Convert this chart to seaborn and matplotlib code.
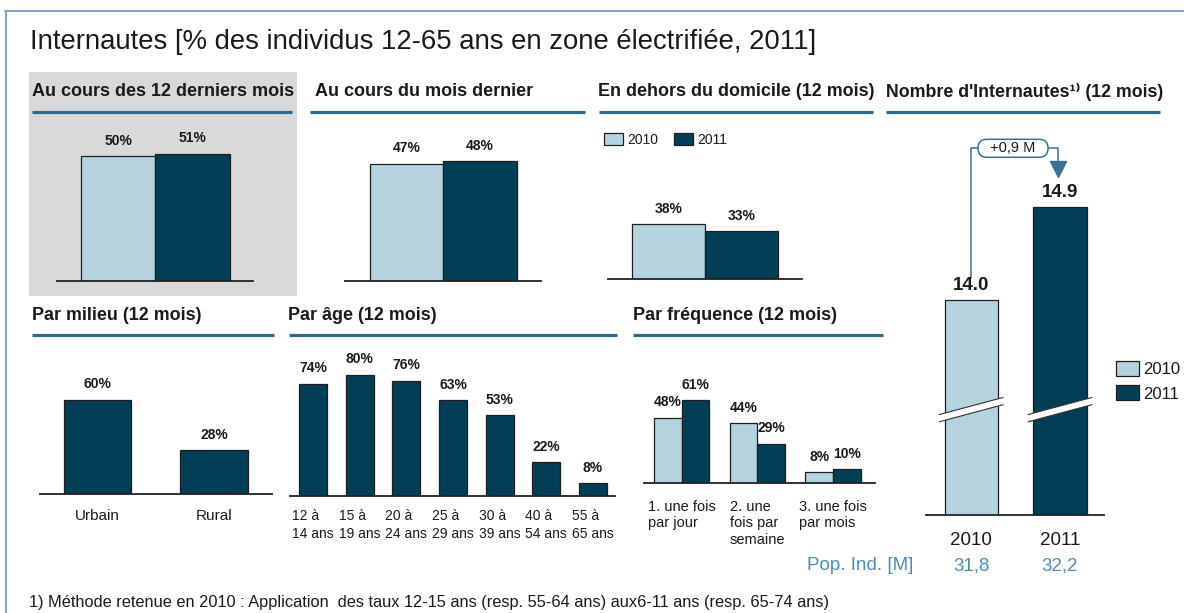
import matplotlib
matplotlib.use("Agg")
import matplotlib.pyplot as plt
import matplotlib.transforms as mtransforms
import seaborn as sns
import pandas as pd
from matplotlib import font_manager
from matplotlib.patches import Rectangle, Polygon, Patch, FancyBboxPatch
from matplotlib.lines import Line2D

# ---------------- data ----------------
years = ["2010", "2011"]
last12_pct = [50, 51]
lastmonth_pct = [47, 48]
outside_pct = [38, 33]
users_millions = [14.0, 14.9]
pop_millions = [31.8, 32.2]
growth_label = "+0,9 M"
milieu_labels = ["Urbain", "Rural"]
milieu_pct = [60, 28]
age_labels = ["12 à\n14 ans", "15 à\n19 ans", "20 à\n24 ans", "25 à\n29 ans",
              "30 à\n39 ans", "40 à\n54 ans", "55 à\n65 ans"]
age_pct = [74, 80, 76, 63, 53, 22, 8]
freq_labels = ["1. une fois\npar jour", "2. une\nfois par\nsemaine", "3. une fois\npar mois"]
freq_2010 = [48, 44, 8]
freq_2011 = [61, 29, 10]

main_title = "Internautes [% des individus 12-65 ans en zone électrifiée, 2011]"
footnote = ("1) Méthode retenue en 2010 : Application  des taux 12-15 ans "
            "(resp. 55-64 ans) aux6-11 ans (resp. 65-74 ans)")
panel_titles = ["Au cours des 12 derniers mois", "Au cours du mois dernier",
                "En dehors du domicile (12 mois)", "Nombre d'Internautes¹⁾ (12 mois)",
                "Par milieu (12 mois)", "Par âge (12 mois)", "Par fréquence (12 mois)"]
pop_label = "Pop. Ind. [M]"

# ---------------- style ----------------
sns.set_theme(style="white")
names = {f.name for f in font_manager.fontManager.ttflist}
NARROW = "Liberation Sans Narrow" if "Liberation Sans Narrow" in names else "Liberation Sans"
plt.rcParams["font.family"] = ["Liberation Sans", "DejaVu Sans"]

LIGHT = "#b4d3de"
DARK = "#023e56"
EDGE = "#1e1e1e"
RULE = "#2d6d8b"
TXT = "#1a1a1a"
BLUE = "#4b8bbe"
GREY = "#d9d9d9"
FRAME = "#7fa3d5"
PAL = {"2010": LIGHT, "2011": DARK}

W, H = 1184, 613
fig = plt.figure(figsize=(W / 100, H / 100), dpi=100)
fig.patch.set_facecolor("white")
renderer = fig.canvas.get_renderer()


def fx(x):
    return x / W


def fy(y):
    return 1 - y / H


def add_ax(x0, x1, ytop, ybot):
    ax = fig.add_axes([fx(x0), fy(ybot), (x1 - x0) / W, (ybot - ytop) / H])
    ax.patch.set_alpha(0)
    return ax


def finish(ax, c0, sp, x0, x1, ytop, ybot, pxper, ymin=0.0):
    ax.set_xlim((x0 - c0) / sp, (x1 - c0) / sp)
    ax.set_ylim(ymin, ymin + (ybot - ytop) / pxper)
    for s in ("left", "top", "right"):
        ax.spines[s].set_visible(False)
    ax.spines["bottom"].set_color("#222222")
    ax.spines["bottom"].set_linewidth(1.3)
    ax.set_yticks([])
    ax.set_xlabel("")
    ax.set_ylabel("")
    ax.tick_params(axis="x", length=0, colors=TXT)


def label(ax, fmt="{:.0f}%", size=10, pad=6):
    for c in ax.containers:
        ax.bar_label(c, fmt=fmt, padding=pad, fontsize=size, fontweight="bold", color=TXT)


def fit_text(x, y, s, width, size=12, **kw):
    t = fig.text(fx(x), fy(y), s, fontsize=size, ha="left", va="center", color=TXT, **kw)
    w = t.get_window_extent(renderer=renderer).width
    t.set_fontsize(size * width / w)
    return t


BAR_KW = dict(edgecolor=EDGE, linewidth=0.9, errorbar=None, saturation=1)

# ---------------- frame, background, titles ----------------
fig.add_artist(Line2D([fx(5), fx(1184)], [fy(11), fy(11)], transform=fig.transFigure,
                      color=FRAME, lw=1.5))
fig.add_artist(Line2D([fx(5.5), fx(5.5)], [fy(11), fy(613)], transform=fig.transFigure,
                      color=FRAME, lw=1.5))
fig.add_artist(Rectangle((fx(28.7), fy(296)), (297 - 28.7) / W, (296 - 72.3) / H,
                         transform=fig.transFigure, facecolor=GREY, edgecolor="none", zorder=-1))

fit_text(30, 41.7, main_title, 789, family=[NARROW, "DejaVu Sans"])

title_pos = [(32, 92, 260), (315, 92, 216.5), (598.5, 92, 273.5), (886, 92, 275.7),
             (31.6, 316, 168), (288.5, 316, 147.5), (632.8, 316, 203.7)]
for s, (x, y, w) in zip(panel_titles, title_pos):
    fit_text(x, y, s, w, fontweight="bold", family=[NARROW, "DejaVu Sans"])

rules = [(31.8, 292, 111.7), (310, 585, 111.7), (598.5, 872.8, 111.7), (886, 1160, 111.7),
         (31.6, 273.5, 335), (288.5, 616.6, 335), (633, 883, 335)]
for x0, x1, y in rules:
    fig.add_artist(Line2D([fx(x0), fx(x1)], [fy(y), fy(y)], transform=fig.transFigure,
                          color=RULE, lw=2.3, solid_capstyle="butt"))

fit_text(28.7, 602, footnote, 798)

# ---------------- panel 1: 12 derniers mois ----------------
df1 = pd.DataFrame({"year": years, "pct": last12_pct})
ax1 = add_ax(57, 253, 120, 281)
sns.barplot(data=df1, x="year", y="pct", hue="year", palette=PAL, width=1.0,
            legend=False, ax=ax1, **BAR_KW)
finish(ax1, 118.3, 74.2, 57, 253, 120, 281, 2.5)
ax1.set_xticks([])
label(ax1)

# ---------------- panel 2: mois dernier ----------------
df2 = pd.DataFrame({"year": years, "pct": lastmonth_pct})
ax2 = add_ax(344.8, 540.5, 120, 281)
sns.barplot(data=df2, x="year", y="pct", hue="year", palette=PAL, width=1.0,
            legend=False, ax=ax2, **BAR_KW)
finish(ax2, 406.6, 73.3, 344.8, 540.5, 120, 281, 2.5)
ax2.set_xticks([])
label(ax2)

# ---------------- panel 3: hors domicile ----------------
df3 = pd.DataFrame({"year": years, "pct": outside_pct})
ax3 = add_ax(607.6, 801.5, 190, 279)
sns.barplot(data=df3, x="year", y="pct", hue="year", palette=PAL, width=1.0,
            legend=False, ax=ax3, **BAR_KW)
finish(ax3, 668.8, 72.75, 607.6, 801.5, 190, 279, 1.45)
ax3.set_xticks([])
label(ax3)
handles = [Patch(facecolor=PAL[y], edgecolor=EDGE, linewidth=0.9) for y in years]
ax3.legend(handles, years, loc="upper left", bbox_to_anchor=(fx(604), fy(133)),
           bbox_transform=fig.transFigure, ncol=2, fontsize=10, frameon=False,
           handlelength=1.4, handleheight=1.0, handletextpad=0.3, columnspacing=1.1,
           borderpad=0, borderaxespad=0, labelcolor=TXT)

# ---------------- panel 4: nombre d'internautes ----------------
df4 = pd.DataFrame({"year": years, "users": users_millions})
ax4 = add_ax(926, 1103.5, 130, 515)
sns.barplot(data=df4, x="year", y="users", hue="year", palette=PAL, width=0.6,
            legend=False, ax=ax4, **BAR_KW)
finish(ax4, 971.2, 88.8, 926, 1103.5, 130, 515, 103.3, ymin=11.92)
ax4.tick_params(axis="x", labelsize=13.5, pad=12)
label(ax4, fmt="{:.1f}", size=13.5, pad=4.5)

blend = mtransforms.blended_transform_factory(ax4.transData, fig.transFigure)
for i, p in enumerate(pop_millions):
    ax4.text(i, fy(566), f"{p:.1f}".replace(".", ","), transform=blend, ha="center",
             va="center", fontsize=13.5, color=BLUE)
fig.text(fx(806.7), fy(566), pop_label, ha="left", va="center", fontsize=13.5, color=BLUE)

# axis break marks
slope, half, thick, yc = 0.23, 0.36, 0.07, 12.94
for i in range(len(users_millions)):
    xl, xr = i - half, i + half
    yl, yr = yc - slope * half, yc + slope * half
    ax4.add_patch(Polygon([(xl, yl - thick / 2), (xr, yr - thick / 2),
                           (xr, yr + thick / 2), (xl, yl + thick / 2)],
                          closed=True, facecolor="white", edgecolor="none", zorder=5,
                          clip_on=False))
    for d in (-thick / 2, thick / 2):
        ax4.plot([xl, xr], [yl + d, yr + d], color="#333333", lw=0.8, zorder=6, clip_on=False)

# growth annotation
ANN = "#3a7190"
v0, v1 = users_millions
y_pill = 15.47
pill_x0, pill_w, pill_h = 0.077, 0.788, 0.174
ax4.plot([0, 0, pill_x0], [v0 + 0.21, y_pill, y_pill], color=ANN, lw=1.1, clip_on=False)
ax4.plot([pill_x0 + pill_w, 0.98, 0.98], [y_pill, y_pill, v1 + 0.33], color=ANN, lw=1.1,
         clip_on=False)
ax4.plot([0.98], [v1 + 0.37], marker="v", markersize=11, color=ANN, clip_on=False)
ax4.add_patch(FancyBboxPatch((pill_x0, y_pill - pill_h / 2), pill_w, pill_h,
                             boxstyle="round,pad=0,rounding_size=0.1", mutation_aspect=0.86,
                             facecolor="white", edgecolor=ANN, lw=1.1, clip_on=False, zorder=4))
ax4.text(pill_x0 + pill_w / 2, y_pill, growth_label, ha="center", va="center",
         fontsize=10.5, color=TXT, zorder=5, clip_on=False)

ax4.legend(handles, years, loc="upper left", bbox_to_anchor=(fx(1116), fy(361)),
           bbox_transform=fig.transFigure, fontsize=12, frameon=False,
           handlelength=1.4, handleheight=1.0, handletextpad=0.25, labelspacing=0.5,
           borderpad=0, borderaxespad=0, labelcolor=TXT)

# ---------------- panel 5: par milieu ----------------
df5 = pd.DataFrame({"milieu": milieu_labels, "pct": milieu_pct})
ax5 = add_ax(39.5, 272, 360, 494)
sns.barplot(data=df5, x="milieu", y="pct", color=DARK, width=0.58, ax=ax5, **BAR_KW)
finish(ax5, 97.8, 116.2, 39.5, 272, 360, 494, 1.57)
ax5.tick_params(axis="x", labelsize=11, pad=11)
label(ax5)

# ---------------- panel 6: par âge ----------------
df6 = pd.DataFrame({"age": age_labels, "pct": age_pct})
ax6 = add_ax(289.7, 614.6, 350, 495.5)
sns.barplot(data=df6, x="age", y="pct", color=DARK, width=0.6, ax=ax6, **BAR_KW)
finish(ax6, 313, 46.65, 289.7, 614.6, 350, 495.5, 1.51)
ax6.set_xticks(range(len(age_labels)))
ax6.set_xticklabels(age_labels, fontsize=10, multialignment="left", linespacing=1.3)
ax6.tick_params(axis="x", pad=10)
label(ax6)

# ---------------- panel 7: par fréquence ----------------
df7 = pd.DataFrame({"freq": freq_labels * 2,
                    "year": [years[0]] * len(freq_labels) + [years[1]] * len(freq_labels),
                    "pct": freq_2010 + freq_2011})
ax7 = add_ax(644, 875, 370, 483)
sns.barplot(data=df7, x="freq", y="pct", hue="year", palette=PAL, width=0.73,
            legend=False, ax=ax7, **BAR_KW)
finish(ax7, 681.5, 75.75, 644, 875, 370, 483, 1.36)
ax7.set_xticks(range(len(freq_labels)))
ax7.set_xticklabels(freq_labels, fontsize=10.5, multialignment="left", linespacing=1.25)
ax7.tick_params(axis="x", pad=12)
label(ax7)

fig.savefig("out.png", dpi=100, facecolor="white")
